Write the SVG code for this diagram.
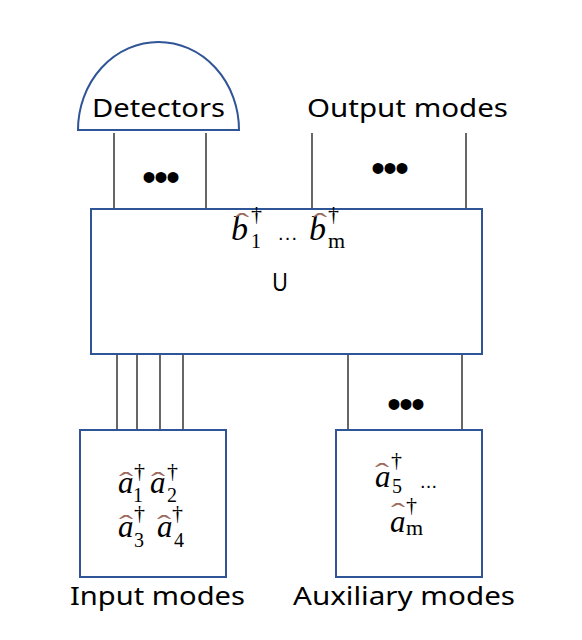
<svg xmlns="http://www.w3.org/2000/svg" width="582" height="640" viewBox="0 0 582 640">
<style>
.box{fill:#fff;stroke:#2F5597;stroke-width:2}
.wire{stroke:#000;stroke-width:1.2;fill:none}
.lbl{font-family:"Noto Sans","Open Sans",sans-serif;font-size:26px;fill:#000}
.dots{font-family:"Liberation Sans",sans-serif;font-size:40px;fill:#000;text-anchor:middle}
.m{font-family:"Liberation Serif","DejaVu Serif",serif;fill:#000}
.mi{font-style:italic;font-size:31px}
.mb{font-style:italic;font-size:34px}
.hat{font-size:26px;fill:#9C6B5E}
.sub{font-size:20px}
.subm{font-size:22px}
.dag{font-size:22px}
.ell{font-family:"Liberation Sans",sans-serif;font-size:20px;fill:#000}
</style>
<rect width="582" height="640" fill="#fff"/>
<g id="connectors">
<line class="wire" x1="114" y1="133" x2="114" y2="209"/>
<line class="wire" x1="206" y1="133" x2="206" y2="209"/>
<line class="wire" x1="312" y1="133" x2="312" y2="209"/>
<line class="wire" x1="466" y1="133" x2="466" y2="209"/>
<line class="wire" x1="117" y1="355" x2="117" y2="430"/>
<line class="wire" x1="137" y1="355" x2="137" y2="430"/>
<line class="wire" x1="160" y1="355" x2="160" y2="430"/>
<line class="wire" x1="183" y1="355" x2="183" y2="430"/>
<line class="wire" x1="348" y1="355" x2="348" y2="430"/>
<line class="wire" x1="462" y1="355" x2="462" y2="430"/>
<text class="dots" x="160" y="191" letter-spacing="-2">•••</text>
<text class="dots" x="389" y="182" letter-spacing="-2">•••</text>
<text class="dots" x="405" y="418" letter-spacing="-2">•••</text>
</g>
<g id="detectors">
<path class="box" d="M78,130 A80.5,88 0 0 1 239,130 Z"/>
<text class="lbl" x="92" y="117" textLength="133" lengthAdjust="spacingAndGlyphs">Detectors</text>
</g>
<g id="output-modes">
<text class="lbl" x="307" y="117" textLength="201" lengthAdjust="spacingAndGlyphs">Output modes</text>
</g>
<g id="unitary">
<rect class="box" x="91" y="209" width="391" height="145"/>
<text class="m"><tspan class="mb" x="231" y="240">b</tspan><tspan class="hat" x="235" y="231" textLength="14" lengthAdjust="spacingAndGlyphs">ˆ</tspan><tspan class="dag" x="251" y="221">†</tspan><tspan class="sub" x="251" y="248">1</tspan></text>
<text class="ell" x="278" y="240" textLength="19">...</text>
<text class="m"><tspan class="mb" x="309" y="240">b</tspan><tspan class="hat" x="313" y="231" textLength="14" lengthAdjust="spacingAndGlyphs">ˆ</tspan><tspan class="dag" x="328" y="221">†</tspan><tspan class="subm" x="328" y="248">m</tspan></text>
<text class="lbl" x="272" y="291" textLength="16" lengthAdjust="spacingAndGlyphs">U</text>
</g>
<g id="input-modes">
<rect class="box" x="80" y="430" width="146" height="147"/>
<text class="m"><tspan class="mi" x="118" y="493">a</tspan><tspan class="hat" x="119" y="490" textLength="14" lengthAdjust="spacingAndGlyphs">ˆ</tspan><tspan class="dag" x="134" y="478">†</tspan><tspan class="sub" x="133" y="502">1</tspan></text>
<text class="m"><tspan class="mi" x="150" y="493">a</tspan><tspan class="hat" x="151" y="490" textLength="14" lengthAdjust="spacingAndGlyphs">ˆ</tspan><tspan class="dag" x="167" y="478">†</tspan><tspan class="sub" x="167" y="502">2</tspan></text>
<text class="m"><tspan class="mi" x="118" y="537">a</tspan><tspan class="hat" x="119" y="533" textLength="14" lengthAdjust="spacingAndGlyphs">ˆ</tspan><tspan class="dag" x="134" y="520">†</tspan><tspan class="sub" x="134" y="547">3</tspan></text>
<text class="m"><tspan class="mi" x="157" y="537">a</tspan><tspan class="hat" x="157" y="533" textLength="14" lengthAdjust="spacingAndGlyphs">ˆ</tspan><tspan class="dag" x="172" y="520">†</tspan><tspan class="sub" x="174" y="547">4</tspan></text>
<text class="lbl" x="70" y="605" textLength="175" lengthAdjust="spacingAndGlyphs">Input modes</text>
</g>
<g id="auxiliary-modes">
<rect class="box" x="336" y="430" width="146" height="147"/>
<text class="m"><tspan class="mi" x="375" y="487">a</tspan><tspan class="hat" x="375" y="481" textLength="14" lengthAdjust="spacingAndGlyphs">ˆ</tspan><tspan class="dag" x="391" y="467">†</tspan><tspan class="sub" x="392" y="493">5</tspan></text>
<text class="ell" x="420" y="488" textLength="17">...</text>
<text class="m"><tspan class="mi" x="390" y="532">a</tspan><tspan class="hat" x="391" y="521" textLength="14" lengthAdjust="spacingAndGlyphs">ˆ</tspan><tspan class="dag" x="406" y="512">†</tspan><tspan class="subm" x="406" y="535">m</tspan></text>
<text class="lbl" x="293" y="605" textLength="222" lengthAdjust="spacingAndGlyphs">Auxiliary modes</text>
</g>
</svg>
